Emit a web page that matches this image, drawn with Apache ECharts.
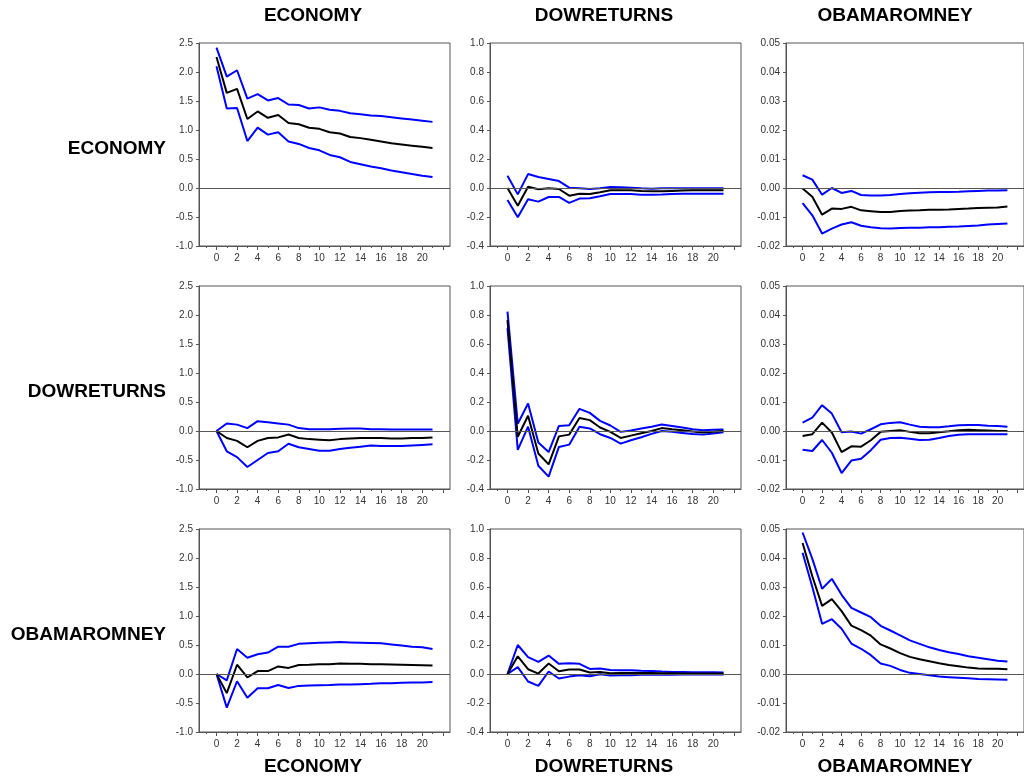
<!DOCTYPE html>
<html>
<head>
<meta charset="utf-8">
<title>Impulse responses</title>
<style>
  html, body { margin: 0; padding: 0; background: #fff; }
  #chart { width: 1024px; height: 778px; }
</style>
<script src="https://cdn.jsdelivr.net/npm/echarts@6/dist/echarts.min.js"></script>
</head>
<body>
<div id="chart"></div>
<script>
// variable names, used for rows (responses) and columns (shocks)
var variables = ['ECONOMY', 'DOWRETURNS', 'OBAMAROMNEY'];

// horizon (periods) and x tick positions
var periods = [0, 1, 2, 3, 4, 5, 6, 7, 8, 9, 10, 11, 12, 13, 14, 15, 16, 17, 18, 19, 20, 21];
var xLabelTicks = [0, 2, 4, 6, 8, 10, 12, 14, 16, 18, 20];
var xMajorTicks = [0, 2, 4, 6, 8, 10, 12, 14, 16, 18, 20, 22];
var xMinorTicks = [-1, 1, 3, 5, 7, 9, 11, 13, 15, 17, 19, 21];

// --- row ECONOMY ---
var econEconMid = [2.26, 1.64, 1.71, 1.19, 1.32, 1.21, 1.26, 1.12, 1.10, 1.04, 1.02, 0.96, 0.94, 0.88, 0.86, 0.83, 0.80, 0.77, 0.75, 0.73, 0.71, 0.69];
var econEconHi  = [2.42, 1.92, 2.03, 1.54, 1.62, 1.51, 1.55, 1.44, 1.43, 1.37, 1.39, 1.35, 1.33, 1.29, 1.27, 1.25, 1.24, 1.22, 1.20, 1.18, 1.16, 1.14];
var econEconLo  = [2.10, 1.37, 1.38, 0.81, 1.04, 0.92, 0.96, 0.80, 0.76, 0.69, 0.65, 0.57, 0.53, 0.45, 0.41, 0.37, 0.34, 0.30, 0.27, 0.24, 0.21, 0.19];

var econDowMid = [0.0, -0.122, 0.009, -0.009, -0.002, -0.007, -0.053, -0.039, -0.041, -0.030, -0.016, -0.016, -0.016, -0.020, -0.023, -0.023, -0.020, -0.018, -0.016, -0.016, -0.016, -0.016];
var econDowHi  = [0.085, -0.044, 0.096, 0.076, 0.062, 0.048, 0.002, -0.002, -0.007, -0.002, 0.007, 0.005, 0.002, -0.002, -0.005, -0.002, -0.002, -0.002, -0.002, -0.002, -0.002, -0.002];
var econDowLo  = [-0.083, -0.202, -0.078, -0.094, -0.062, -0.062, -0.103, -0.073, -0.071, -0.057, -0.041, -0.041, -0.041, -0.046, -0.046, -0.044, -0.041, -0.039, -0.039, -0.039, -0.039, -0.039];

var econObamaMid = [-0.0002, -0.0030, -0.0092, -0.0071, -0.0072, -0.0065, -0.0077, -0.0080, -0.0083, -0.0083, -0.0079, -0.0078, -0.0077, -0.0075, -0.0075, -0.0074, -0.0072, -0.0071, -0.0069, -0.0068, -0.0067, -0.0064];
var econObamaHi  = [0.0044, 0.0029, -0.0023, 0.0000, -0.0017, -0.0010, -0.0024, -0.0026, -0.0026, -0.0024, -0.0021, -0.0018, -0.0016, -0.0015, -0.0014, -0.0014, -0.0013, -0.0011, -0.0010, -0.0009, -0.0009, -0.0008];
var econObamaLo  = [-0.0052, -0.0094, -0.0157, -0.0140, -0.0126, -0.0118, -0.0130, -0.0135, -0.0139, -0.0140, -0.0138, -0.0137, -0.0137, -0.0135, -0.0135, -0.0134, -0.0133, -0.0131, -0.0129, -0.0126, -0.0124, -0.0122];

// --- row DOWRETURNS ---
var dowEconMid = [0.0, -0.12, -0.17, -0.28, -0.17, -0.12, -0.11, -0.06, -0.12, -0.14, -0.15, -0.16, -0.14, -0.13, -0.12, -0.12, -0.12, -0.13, -0.13, -0.12, -0.12, -0.11];
var dowEconHi  = [0.0, 0.13, 0.11, 0.05, 0.17, 0.15, 0.13, 0.11, 0.05, 0.03, 0.03, 0.03, 0.04, 0.045, 0.045, 0.03, 0.03, 0.025, 0.025, 0.025, 0.025, 0.025];
var dowEconLo  = [0.0, -0.35, -0.45, -0.62, -0.50, -0.38, -0.35, -0.22, -0.28, -0.31, -0.34, -0.34, -0.31, -0.29, -0.27, -0.25, -0.26, -0.26, -0.26, -0.25, -0.24, -0.23];

var dowDowMid = [0.765, -0.04, 0.105, -0.155, -0.23, -0.037, -0.025, 0.09, 0.075, 0.024, -0.006, -0.048, -0.032, -0.016, 0.0, 0.02, 0.012, 0.005, -0.004, -0.01, -0.006, 0.0];
var dowDowHi  = [0.823, 0.05, 0.19, -0.08, -0.145, 0.035, 0.04, 0.153, 0.125, 0.07, 0.038, -0.006, 0.003, 0.017, 0.03, 0.045, 0.035, 0.024, 0.012, 0.005, 0.008, 0.01];
var dowDowLo  = [0.71, -0.13, 0.03, -0.24, -0.315, -0.11, -0.094, 0.03, 0.018, -0.022, -0.048, -0.087, -0.064, -0.043, -0.02, 0.0, -0.006, -0.013, -0.02, -0.025, -0.018, -0.008];

var dowObamaMid = [-0.0017, -0.0011, 0.0029, -0.0005, -0.0073, -0.0053, -0.0054, -0.0032, -0.0003, 0.0000, 0.0003, -0.0003, -0.0008, -0.0008, -0.0004, -0.0001, 0.0003, 0.0004, 0.0003, 0.0002, 0.0000, 0.0000];
var dowObamaHi  = [0.0029, 0.0046, 0.0089, 0.0060, -0.0004, -0.0002, -0.0009, 0.0006, 0.0023, 0.0028, 0.0030, 0.0022, 0.0015, 0.0013, 0.0013, 0.0016, 0.0020, 0.0021, 0.0021, 0.0018, 0.0017, 0.0015];
var dowObamaLo  = [-0.0065, -0.0069, -0.0031, -0.0075, -0.0145, -0.0102, -0.0096, -0.0066, -0.0030, -0.0024, -0.0023, -0.0027, -0.0031, -0.0030, -0.0024, -0.0017, -0.0013, -0.0011, -0.0011, -0.0011, -0.0011, -0.0011];

// --- row OBAMAROMNEY ---
var obamaEconMid = [0.0, -0.33, 0.16, -0.06, 0.05, 0.05, 0.13, 0.105, 0.155, 0.16, 0.17, 0.17, 0.18, 0.175, 0.175, 0.17, 0.17, 0.165, 0.16, 0.155, 0.15, 0.145];
var obamaEconHi  = [0.0, -0.11, 0.43, 0.28, 0.34, 0.37, 0.47, 0.47, 0.52, 0.53, 0.54, 0.545, 0.55, 0.545, 0.54, 0.535, 0.53, 0.51, 0.49, 0.47, 0.46, 0.43];
var obamaEconLo  = [0.0, -0.58, -0.125, -0.41, -0.245, -0.245, -0.19, -0.24, -0.205, -0.20, -0.195, -0.19, -0.18, -0.18, -0.175, -0.17, -0.16, -0.16, -0.15, -0.145, -0.145, -0.14];

var obamaDowMid = [0.0, 0.122, 0.033, 0.003, 0.072, 0.019, 0.031, 0.031, 0.010, 0.014, 0.005, 0.007, 0.007, 0.007, 0.007, 0.005, 0.005, 0.003, 0.003, 0.003, 0.003, 0.003];
var obamaDowHi  = [0.0, 0.20, 0.116, 0.084, 0.127, 0.07, 0.074, 0.07, 0.035, 0.038, 0.028, 0.026, 0.026, 0.022, 0.021, 0.017, 0.014, 0.014, 0.012, 0.012, 0.012, 0.01];
var obamaDowLo  = [0.0, 0.047, -0.052, -0.082, 0.017, -0.031, -0.018, -0.008, -0.015, -0.002, -0.010, -0.008, -0.008, -0.006, -0.006, -0.005, -0.005, -0.004, -0.004, -0.004, -0.004, -0.004];

var obamaObamaMid = [0.0452, 0.0337, 0.0235, 0.0258, 0.0217, 0.0167, 0.0151, 0.0132, 0.0102, 0.0088, 0.0072, 0.0059, 0.0051, 0.0044, 0.0037, 0.0031, 0.0027, 0.0022, 0.0019, 0.0018, 0.0018, 0.0016];
var obamaObamaHi  = [0.0488, 0.0397, 0.0294, 0.0328, 0.0273, 0.0228, 0.0212, 0.0196, 0.0166, 0.0150, 0.0133, 0.0116, 0.0104, 0.0092, 0.0083, 0.0075, 0.0069, 0.0061, 0.0056, 0.0051, 0.0046, 0.0043];
var obamaObamaLo  = [0.0418, 0.0300, 0.0173, 0.0189, 0.0156, 0.0105, 0.0087, 0.0065, 0.0036, 0.0028, 0.0014, 0.0004, 0.0000, -0.0004, -0.0009, -0.0011, -0.0013, -0.0015, -0.0017, -0.0018, -0.0019, -0.0020];

// panels[row][col] = [mid, upper, lower]
var panels = [
    [[econEconMid, econEconHi, econEconLo], [econDowMid, econDowHi, econDowLo], [econObamaMid, econObamaHi, econObamaLo]],
    [[dowEconMid, dowEconHi, dowEconLo], [dowDowMid, dowDowHi, dowDowLo], [dowObamaMid, dowObamaHi, dowObamaLo]],
    [[obamaEconMid, obamaEconHi, obamaEconLo], [obamaDowMid, obamaDowHi, obamaDowLo], [obamaObamaMid, obamaObamaHi, obamaObamaLo]]
];

// y scale for each column (shock)
var yMins = [-1.0, -0.4, -0.02];
var yMaxs = [2.5, 1.0, 0.05];
var yIntervals = [0.5, 0.2, 0.01];
var yDecimals = [1, 1, 2];

// layout
var colLefts = [199, 490, 786];
var colWidths = [251, 251, 247];
var rowTops = [43, 286, 529];
var panelHeight = 203;
var colTitleX = [313, 604, 895];
var rowTitleY = [149, 392, 635];

var FONT = '"Liberation Sans", Arial, sans-serif';
var FRAME = '#555';

function pairs(ys) {
    return periods.map(function(p, i) { return [p, ys[i]]; });
}

var grids = [], xAxes = [], yAxes = [], series = [];

for (var r = 0; r < 3; r++) {
    for (var c = 0; c < 3; c++) {
        var g = r * 3 + c;
        grids.push({
            left: colLefts[c], top: rowTops[r], width: colWidths[c], height: panelHeight,
            show: true, borderColor: FRAME, borderWidth: 1, backgroundColor: 'transparent'
        });
        // major ticks with labels
        xAxes.push({
            type: 'value', gridIndex: g, min: -1.7, max: 22.7, position: 'bottom',
            axisLine: { show: true, onZero: false, lineStyle: { color: FRAME, width: 1 } },
            axisTick: { show: true, length: 4, customValues: xMajorTicks, lineStyle: { color: FRAME } },
            axisLabel: { show: true, customValues: xLabelTicks, fontSize: 10, fontFamily: FONT, color: '#333', margin: 7 },
            splitLine: { show: false }
        });
        // minor ticks
        xAxes.push({
            type: 'value', gridIndex: g, min: -1.7, max: 22.7, position: 'bottom',
            axisLine: { show: false, onZero: false },
            axisTick: { show: true, length: 2, customValues: xMinorTicks, lineStyle: { color: FRAME } },
            axisLabel: { show: false },
            splitLine: { show: false }
        });
        yAxes.push({
            type: 'value', gridIndex: g, min: yMins[c], max: yMaxs[c], interval: yIntervals[c],
            axisLine: { show: true, onZero: false, lineStyle: { color: FRAME, width: 1 } },
            axisTick: { show: true, length: 3, lineStyle: { color: FRAME } },
            axisLabel: {
                fontSize: 10, fontFamily: FONT, color: '#333', margin: 6,
                formatter: (function(d) { return function(v) { return (+v).toFixed(d); }; })(yDecimals[c])
            },
            splitLine: { show: false }
        });

        var set = panels[r][c];
        series.push({
            type: 'line', xAxisIndex: g * 2, yAxisIndex: g, data: pairs(set[1]),
            symbol: 'none', lineStyle: { color: '#0000ff', width: 2 }, silent: true,
            markLine: {
                silent: true, symbol: 'none', label: { show: false },
                lineStyle: { color: '#555', width: 1, type: 'solid' },
                data: [{ yAxis: 0 }]
            }
        });
        series.push({
            type: 'line', xAxisIndex: g * 2, yAxisIndex: g, data: pairs(set[2]),
            symbol: 'none', lineStyle: { color: '#0000ff', width: 2 }, silent: true
        });
        series.push({
            type: 'line', xAxisIndex: g * 2, yAxisIndex: g, data: pairs(set[0]),
            symbol: 'none', lineStyle: { color: '#000000', width: 2 }, silent: true
        });
    }
}

var texts = [];
variables.forEach(function(name, i) {
    var titleStyle = { text: name, font: 'bold 19px ' + FONT, fill: '#000', textAlign: 'center', textVerticalAlign: 'middle' };
    texts.push({ type: 'text', x: colTitleX[i], y: 16, style: Object.assign({}, titleStyle) });
    texts.push({ type: 'text', x: colTitleX[i], y: 767, style: Object.assign({}, titleStyle) });
    texts.push({ type: 'text', x: 166, y: rowTitleY[i], style: Object.assign({}, titleStyle, { textAlign: 'right' }) });
});

var chart = echarts.init(document.getElementById('chart'), null, { renderer: 'canvas' });
chart.setOption({
    animation: false,
    backgroundColor: '#ffffff',
    grid: grids,
    xAxis: xAxes,
    yAxis: yAxes,
    series: series,
    graphic: texts
});
</script>
</body>
</html>
